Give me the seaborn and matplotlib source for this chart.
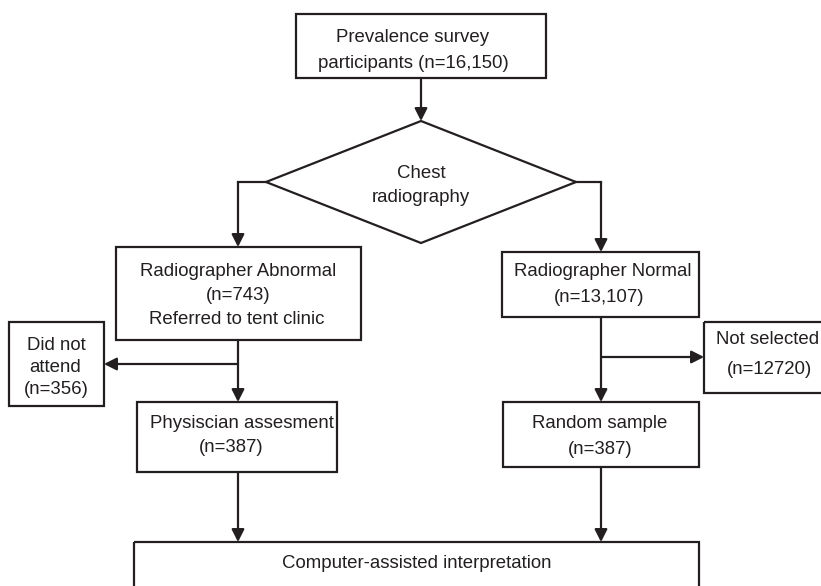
import matplotlib.pyplot as plt
import seaborn as sns
from matplotlib.patches import Rectangle, Polygon, FancyArrowPatch

# flow data
node_ids = ["survey", "abnormal", "normal", "no_attend", "not_selected",
            "physician", "random", "cai"]
node_counts = ["16,150", "743", "13,107", "356", "12720", "387", "387", None]
node_lines = [
    ["Prevalence survey", "participants (n={n})"],
    ["Radiographer Abnormal", "(n={n})", "Referred to tent clinic"],
    ["Radiographer Normal", "(n={n})"],
    ["Did not", "attend", "(n={n})"],
    ["Not selected", "(n={n})"],
    ["Physiscian assesment", "(n={n})"],
    ["Random sample", "(n={n})"],
    ["Computer-assisted interpretation"],
]
decision_lines = ["Chest", "radiography"]

# layout in pixel units of the 821x586 canvas (x0, y0, x1, y1)
box_xy = {
    "survey": (296, 14, 546, 78),
    "abnormal": (116, 247, 361, 340),
    "normal": (502, 252, 699, 317),
    "no_attend": (9, 322, 104, 406),
    "not_selected": (704, 322, 840, 393),
    "physician": (137, 402, 337, 472),
    "random": (503, 402, 699, 467),
    "cai": (134, 542, 699, 620),
}
# (x, y) centre of each text line
text_xy = {
    "survey": [(413, 35), (413, 62)],
    "abnormal": [(238, 270), (238, 293), (237, 317)],
    "normal": [(603, 270), (599, 295)],
    "no_attend": [(56, 344), (55, 366), (56, 388)],
    "not_selected": [(768, 338), (770, 367)],
    "physician": [(242, 421), (231, 445)],
    "random": [(600, 422), (600, 447)],
    "cai": [(417, 562)],
}
diamond = dict(cx=421, cy=182, hw=155, hh=61)
decision_xy = [(421, 172), (421, 195)]

links = [
    [(421, 78), (421, 121)],
    [(266, 182), (238, 182), (238, 247)],
    [(576, 182), (601, 182), (601, 252)],
    [(238, 340), (238, 402)],
    [(238, 364), (104, 364)],
    [(601, 317), (601, 402)],
    [(601, 357), (704, 357)],
    [(238, 472), (238, 542)],
    [(601, 467), (601, 542)],
]

INK = "#231f20"
LW = 1.6

sns.set_theme(style="white")
plt.rcParams["font.family"] = ["Liberation Sans", "DejaVu Sans"]

fig = plt.figure(figsize=(8.21, 5.86), dpi=100)
ax = fig.add_axes([0, 0, 1, 1])
ax.set_xlim(0, 821)
ax.set_ylim(586, 0)
ax.axis("off")

for nid, n, lines in zip(node_ids, node_counts, node_lines):
    x0, y0, x1, y1 = box_xy[nid]
    ax.add_patch(Rectangle((x0, y0), x1 - x0, y1 - y0, fill=False,
                           edgecolor=INK, lw=LW))
    for line, (tx, ty) in zip(lines, text_xy[nid]):
        ax.text(tx, ty, line.format(n=n), ha="center", va="center_baseline",
                fontsize=13.4, color=INK)

d = diamond
ax.add_patch(Polygon([(d["cx"], d["cy"] - d["hh"]), (d["cx"] + d["hw"], d["cy"]),
                      (d["cx"], d["cy"] + d["hh"]), (d["cx"] - d["hw"], d["cy"])],
                     closed=True, fill=False, edgecolor=INK, lw=LW))
for line, (tx, ty) in zip(decision_lines, decision_xy):
    ax.text(tx, ty, line, ha="center", va="center_baseline", fontsize=13.4,
            color=INK)

for pts in links:
    if len(pts) > 2:
        xs, ys = zip(*pts[:-1])
        ax.plot(xs, ys, color=INK, lw=LW, solid_capstyle="projecting")
    ax.add_patch(FancyArrowPatch(pts[-2], pts[-1],
                                 arrowstyle="-|>,head_length=0.75,head_width=0.38",
                                 mutation_scale=10, shrinkA=0, shrinkB=0,
                                 color=INK, lw=LW))

fig.savefig("out.png", dpi=100)
